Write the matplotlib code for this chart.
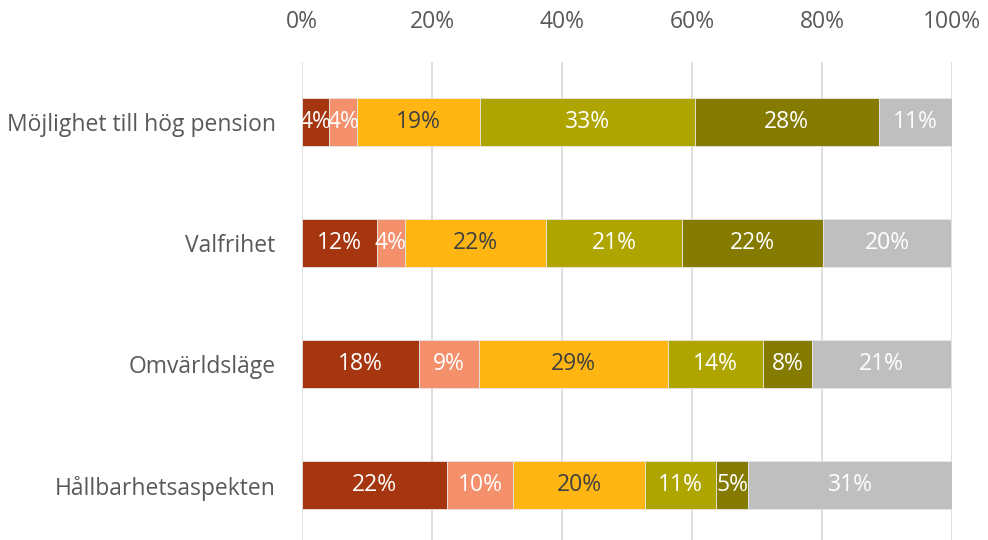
import numpy as np
import matplotlib.pyplot as plt

# Data (percent shares, labels rounded)
categories = ['Möjlighet till hög pension', 'Valfrihet', 'Omvärldsläge', 'Hållbarhetsaspekten']
seg1 = [4.2, 11.5, 18.0, 22.3]
seg2 = [4.3, 4.3, 9.2, 10.2]
seg3 = [18.8, 21.8, 29.1, 20.3]
seg4 = [33.1, 20.9, 14.6, 10.9]
seg5 = [28.3, 21.7, 7.5, 4.9]
seg6 = [11.4, 19.7, 21.5, 31.4]
labels1 = ['4%', '12%', '18%', '22%']
labels2 = ['4%', '4%', '9%', '10%']
labels3 = ['19%', '22%', '29%', '20%']
labels4 = ['33%', '21%', '14%', '11%']
labels5 = ['28%', '22%', '8%', '5%']
labels6 = ['11%', '20%', '21%', '31%']

series = [seg1, seg2, seg3, seg4, seg5, seg6]
series_labels = [labels1, labels2, labels3, labels4, labels5, labels6]
colors = ['#A5360F', '#F4906C', '#FFB612', '#AFA500', '#857B00', '#BFBFBF']
text_colors = ['white', 'white', '#404040', 'white', 'white', 'white']

plt.rcParams['font.family'] = ['Open Sans', 'DejaVu Sans']

fig = plt.figure(figsize=(9.88, 5.4), dpi=100)
ax = fig.add_axes([0.3057, -0.0102, 0.658, 0.896])

y = np.arange(len(categories))
left = np.zeros(len(categories))
for vals, labs, c, tc in zip(series, series_labels, colors, text_colors):
    vals = np.array(vals)
    ax.barh(y, vals, left=left, height=0.4, color=c, edgecolor='#E6E6E6', linewidth=0.6, zorder=3)
    for yi, l, v, t in zip(y, left, vals, labs):
        ax.text(l + v / 2, yi, t, ha='center', va='center', color=tc, fontsize=16.5, zorder=4)
    left += vals

ax.set_xlim(0, 100)
ax.set_ylim(3.5, -0.5)
ax.set_yticks(y)
ax.set_yticklabels(categories)
ax.set_xticks(np.arange(0, 101, 20))
ax.set_xticklabels([f'{v}%' for v in range(0, 101, 20)])
ax.xaxis.tick_top()
ax.tick_params(axis='x', length=0, pad=20, labelsize=16.5, labelcolor='#595959')
ax.tick_params(axis='y', length=0, pad=19, labelsize=16.5, labelcolor='#595959')
ax.grid(axis='x', color='#D9D9D9', linewidth=1.2, zorder=0)
for s in ax.spines.values():
    s.set_visible(False)

plt.savefig('out.png', dpi=100)
